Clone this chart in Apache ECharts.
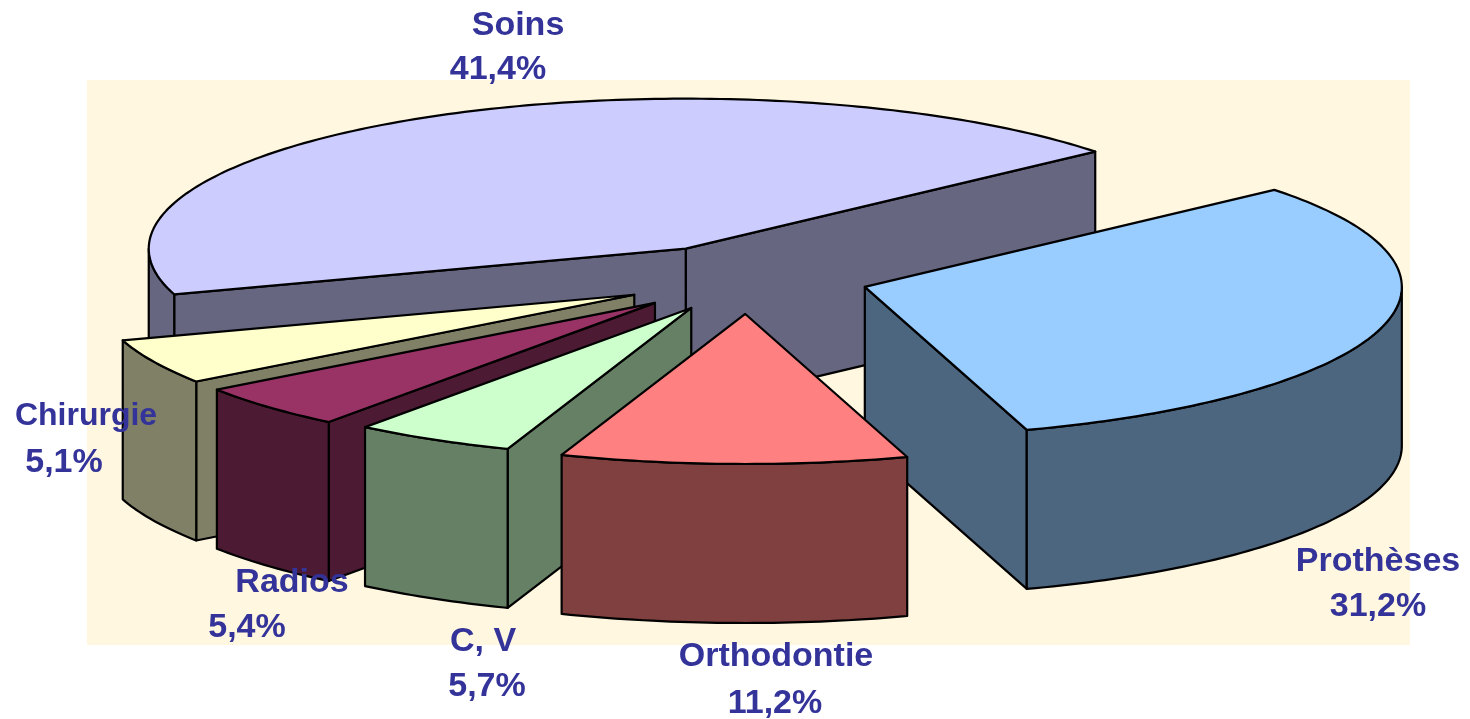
<!DOCTYPE html>
<html>
<head>
<meta charset="utf-8">
<title>Répartition</title>
<script src="https://cdn.jsdelivr.net/npm/echarts@6/dist/echarts.min.js"></script>
<style>
html, body { margin: 0; padding: 0; background: #fff; }
#chart { width: 1470px; height: 719px; }
</style>
</head>
<body>
<div id="chart"></div>
<script>
// data, clockwise from Soins
var categories = ['Soins', 'Chirurgie', 'Radios', 'C, V', 'Orthodontie', 'Prothèses'];
var percents = [41.4, 5.1, 5.4, 5.7, 11.2, 31.2];

// drawing order (back to front)
var drawRank = [0, 2, 3, 4, 5, 1];
var topColors = ['#CCCCFF', '#FFFFCC', '#993366', '#CCFFCC', '#FF8080', '#99CCFF'];
var sideColors = ['#666680', '#808066', '#4D1A33', '#668066', '#804040', '#4D6680'];
var explode = [0.216, 0.22, 0.22, 0.22, 0.24, 0.238];
var nudgeX = [0, -2, -2, 6, 6, 0];
var nudgeY = [0, 3, 3, 2, 1, 0];

// label centres: [name x, name y, value x, value y]
var labelPos = [
	[518, 26, 498, 70],
	[86, 416, 64, 463],
	[292, 583, 247, 628],
	[483, 642, 487, 687],
	[776, 657, 775, 704],
	[1378, 562, 1378, 607]
];
var nameSize = [34, 32, 34, 34, 34, 34];

// tilted pie projection
var cx = 742, cy = 277, rx = 537, ry = 150, depth = 159, startAngle = 41;
var RAD = Math.PI / 180;

function view(a) { // the old 3D view squeezes the angles a little
	return a + 2.24 + 2.6 * Math.cos((a - 200) * RAD) - 3.5 * Math.cos(2 * (a - 268) * RAD) + 0.8 * Math.cos(3 * (a - 228) * RAD);
}
function ray(a) {
	return [rx * Math.cos(a * RAD), -ry * Math.sin(a * RAD)];
}

var total = percents.reduce(function (s, v) { return s + v; }, 0);

function sliceAngles(idx) {
	var sum = 0;
	for (var i = 0; i < idx; i++) sum += percents[i];
	var a0 = startAngle + sum / total * 360;
	var a1 = a0 + percents[idx] / total * 360;
	return [view(a0), view(a1)];
}

function poly(points, fill, z2) {
	return {
		type: 'polygon',
		z2: z2,
		shape: { points: points },
		style: { fill: fill, stroke: '#000', lineWidth: 2.2, lineJoin: 'round' }
	};
}

function renderSlice(params, api) {
	var i = params.dataIndex;
	var ang = sliceAngles(i);
	var a0 = ang[0], a1 = ang[1];
	var mid = ray((a0 + a1) / 2);
	var apex = [cx + explode[i] * mid[0] + nudgeX[i], cy + explode[i] * mid[1] + nudgeY[i]];
	var rank = drawRank[i] * 10;
	var children = [];

	// flat walls along both cut edges, only when they hang under the top
	[a0, a1].forEach(function (a) {
		var r = ray(a);
		var lineY = r[1] / r[0] * mid[0];
		if (mid[1] < lineY) {
			children.push(poly([
				apex,
				[apex[0] + r[0], apex[1] + r[1]],
				[apex[0] + r[0], apex[1] + r[1] + depth],
				[apex[0], apex[1] + depth]
			], sideColors[i], rank + 1));
		}
	});

	// round wall, front half of the ellipse only
	var from = Math.max(a0, 180), to = Math.min(a1, 360);
	if (to > from) {
		var upper = [], lower = [];
		for (var a = from; ; a += 1) {
			var t = Math.min(a, to), p = ray(t);
			upper.push([apex[0] + p[0], apex[1] + p[1]]);
			lower.unshift([apex[0] + p[0], apex[1] + p[1] + depth]);
			if (t === to) break;
		}
		children.push(poly(upper.concat(lower), sideColors[i], rank + 2));
	}

	// top face
	var top = [apex];
	for (var b = a0; ; b += 1) {
		var t2 = Math.min(b, a1), q = ray(t2);
		top.push([apex[0] + q[0], apex[1] + q[1]]);
		if (t2 === a1) break;
	}
	children.push(poly(top, topColors[i], rank + 3));

	return { type: 'group', children: children };
}

function renderLabel(params, api) {
	var i = params.dataIndex;
	var valueText = api.value(0).toFixed(1).replace('.', ',') + '%';
	function txt(s, x, y, size) {
		return {
			type: 'text',
			z2: 100,
			style: {
				text: s, x: x, y: y, align: 'center', verticalAlign: 'middle', fill: '#333399',
				font: 'bold ' + size + 'px "Liberation Sans", Arial, sans-serif'
			}
		};
	}
	return {
		type: 'group',
		children: [
			txt(categories[i], labelPos[i][0], labelPos[i][1], nameSize[i]),
			txt(valueText, labelPos[i][2], labelPos[i][3], 34)
		]
	};
}

var myChart = echarts.init(document.getElementById('chart'));
var option = {
	animation: false,
	backgroundColor: '#fff',
	graphic: [{
		type: 'rect',
		z: 0,
		silent: true,
		shape: { x: 87, y: 80, width: 1323, height: 565 },
		style: { fill: '#FFF7E0' }
	}],
	series: [
		{ type: 'custom', coordinateSystem: 'none', z: 2, silent: true, data: percents, renderItem: renderSlice },
		{ type: 'custom', coordinateSystem: 'none', z: 3, silent: true, data: percents, renderItem: renderLabel }
	]
};
myChart.setOption(option);
</script>
</body>
</html>
